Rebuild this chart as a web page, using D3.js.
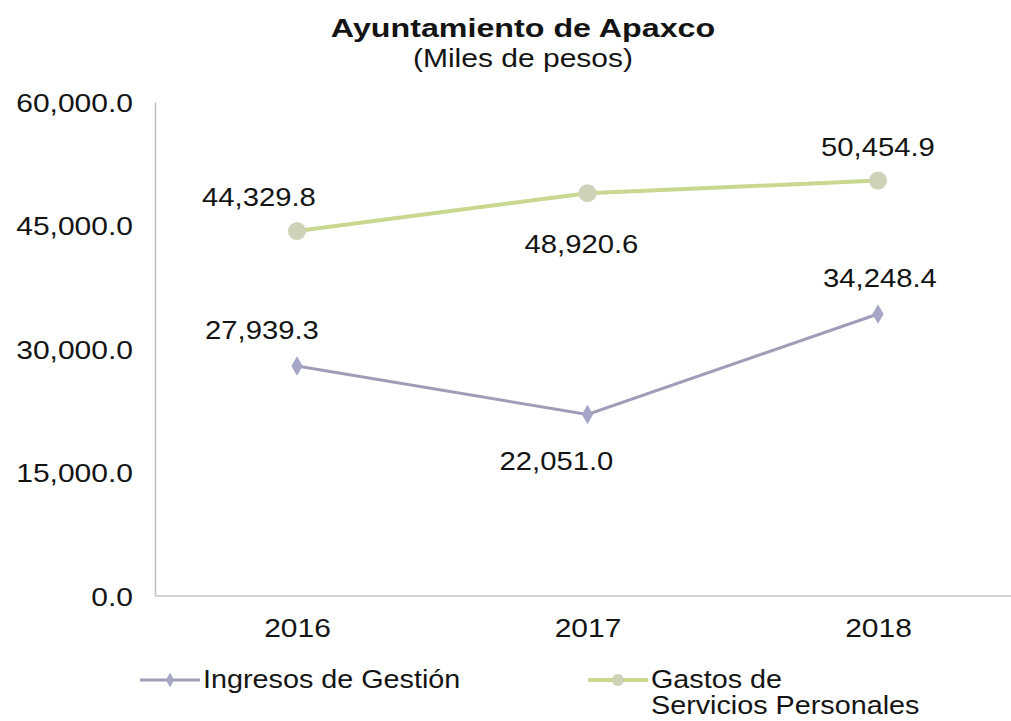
<!DOCTYPE html>
<html><head><meta charset="utf-8">
<script src="https://cdn.jsdelivr.net/npm/d3@7"></script>
<style>body{margin:0;background:#fff;font-family:"Liberation Sans",Arial,sans-serif;}</style>
</head><body><svg id="c" width="1011" height="721"></svg>
<script>
const years = ["2016","2017","2018"];
const ingresos = [27939.3, 22051.0, 34248.4];
const gastos = [44329.8, 48920.6, 50454.9];
const yTicks = [0, 15000, 30000, 45000, 60000];
const seriesNames = ["Ingresos de Gestión", "Gastos de", "Servicios Personales"];

const SX = 1.17;
const svg = d3.select("#c");
const x = d3.scalePoint().domain(years).range([297, 878]);
const y = d3.scaleLinear().domain([0, 60000]).range([596, 102]);
const fmt = d3.format(",.1f");

function label(g, px, py, str, anchor, size, weight, sx) {
  return g.append("text")
    .attr("transform", `translate(${px},${py}) scale(${sx || SX},1)`)
    .attr("text-anchor", anchor || "start")
    .attr("font-size", size || 25)
    .attr("font-weight", weight || "normal")
    .attr("fill", "#141414")
    .text(str);
}

// title
label(svg, 523, 37, "Ayuntamiento de Apaxco", "middle", 26, "bold", 1.24);
label(svg, 523, 67, "(Miles de pesos)", "middle", 25, "normal", 1.2);

// y axis
const yAxis = d3.axisLeft(y).tickValues(yTicks).tickFormat(fmt).tickSize(0);
const ga = svg.append("g").attr("transform", "translate(155,0)").call(yAxis);
ga.select(".domain").attr("stroke", "#bdbdbd").attr("stroke-width", 1.5);
ga.selectAll(".tick text").attr("x", 0).attr("dy", null)
  .attr("transform", `translate(-22,9) scale(1.2,1)`)
  .attr("font-size", 25).attr("fill", "#141414").attr("font-family", "Liberation Sans, Arial, sans-serif");

// baseline
svg.append("line").attr("x1", 155).attr("x2", 1011).attr("y1", y(0)).attr("y2", y(0))
  .attr("stroke", "#d4d4d4").attr("stroke-width", 2);

// x labels
const xAxis = d3.axisBottom(x).tickSize(0);
const gx = svg.append("g").attr("transform", `translate(0,${y(0)})`).call(xAxis);
gx.select(".domain").remove();
gx.selectAll(".tick text").attr("y", 0).attr("dy", null)
  .attr("transform", `translate(0,41) scale(1.2,1)`)
  .attr("font-size", 25).attr("fill", "#141414").attr("font-family", "Liberation Sans, Arial, sans-serif");

const line = d3.line().x((d, i) => x(years[i])).y(d => y(d));

// gastos
svg.append("path").datum(gastos).attr("d", line).attr("fill", "none")
  .attr("stroke", "#c8d88f").attr("stroke-width", 4);
svg.selectAll(".gm").data(gastos).join("circle")
  .attr("cx", (d, i) => x(years[i])).attr("cy", d => y(d)).attr("r", 9)
  .attr("fill", "#cfd1b8");

// ingresos
svg.append("path").datum(ingresos).attr("d", line).attr("fill", "none")
  .attr("stroke", "#9e9eb9").attr("stroke-width", 3);
svg.selectAll(".im").data(ingresos).join("path")
  .attr("d", d3.symbol(d3.symbolDiamond, 110)())
  .attr("transform", (d, i) => `translate(${x(years[i])},${y(d)})`)
  .attr("fill", "#a6a6c9");

// data labels
const gOff = [[-38, -25], [-6, 60], [0, -25]];
const iOff = [[-35, -27], [-31, 56], [2, -27]];
gastos.forEach((d, i) => label(svg, x(years[i]) + gOff[i][0], y(d) + gOff[i][1], fmt(d), "middle"));
ingresos.forEach((d, i) => label(svg, x(years[i]) + iOff[i][0], y(d) + iOff[i][1], fmt(d), "middle"));

// legend
const lg = svg.append("g");
lg.append("line").attr("x1", 140).attr("x2", 200).attr("y1", 680).attr("y2", 680)
  .attr("stroke", "#9e9eb9").attr("stroke-width", 3);
lg.append("path").attr("d", d3.symbol(d3.symbolDiamond, 60)()).attr("transform", "translate(170,680)").attr("fill", "#a6a6c9");
label(lg, 203, 688, seriesNames[0], "start", 25, "normal", 1.15);
lg.append("line").attr("x1", 588).attr("x2", 648).attr("y1", 680).attr("y2", 680)
  .attr("stroke", "#c8d88f").attr("stroke-width", 4);
lg.append("circle").attr("cx", 618).attr("cy", 680).attr("r", 6).attr("fill", "#cfd1b8");
label(lg, 651, 688, seriesNames[1], "start", 25, "normal", 1.15);
label(lg, 651, 714, seriesNames[2], "start", 25, "normal", 1.15);
</script></body></html>
